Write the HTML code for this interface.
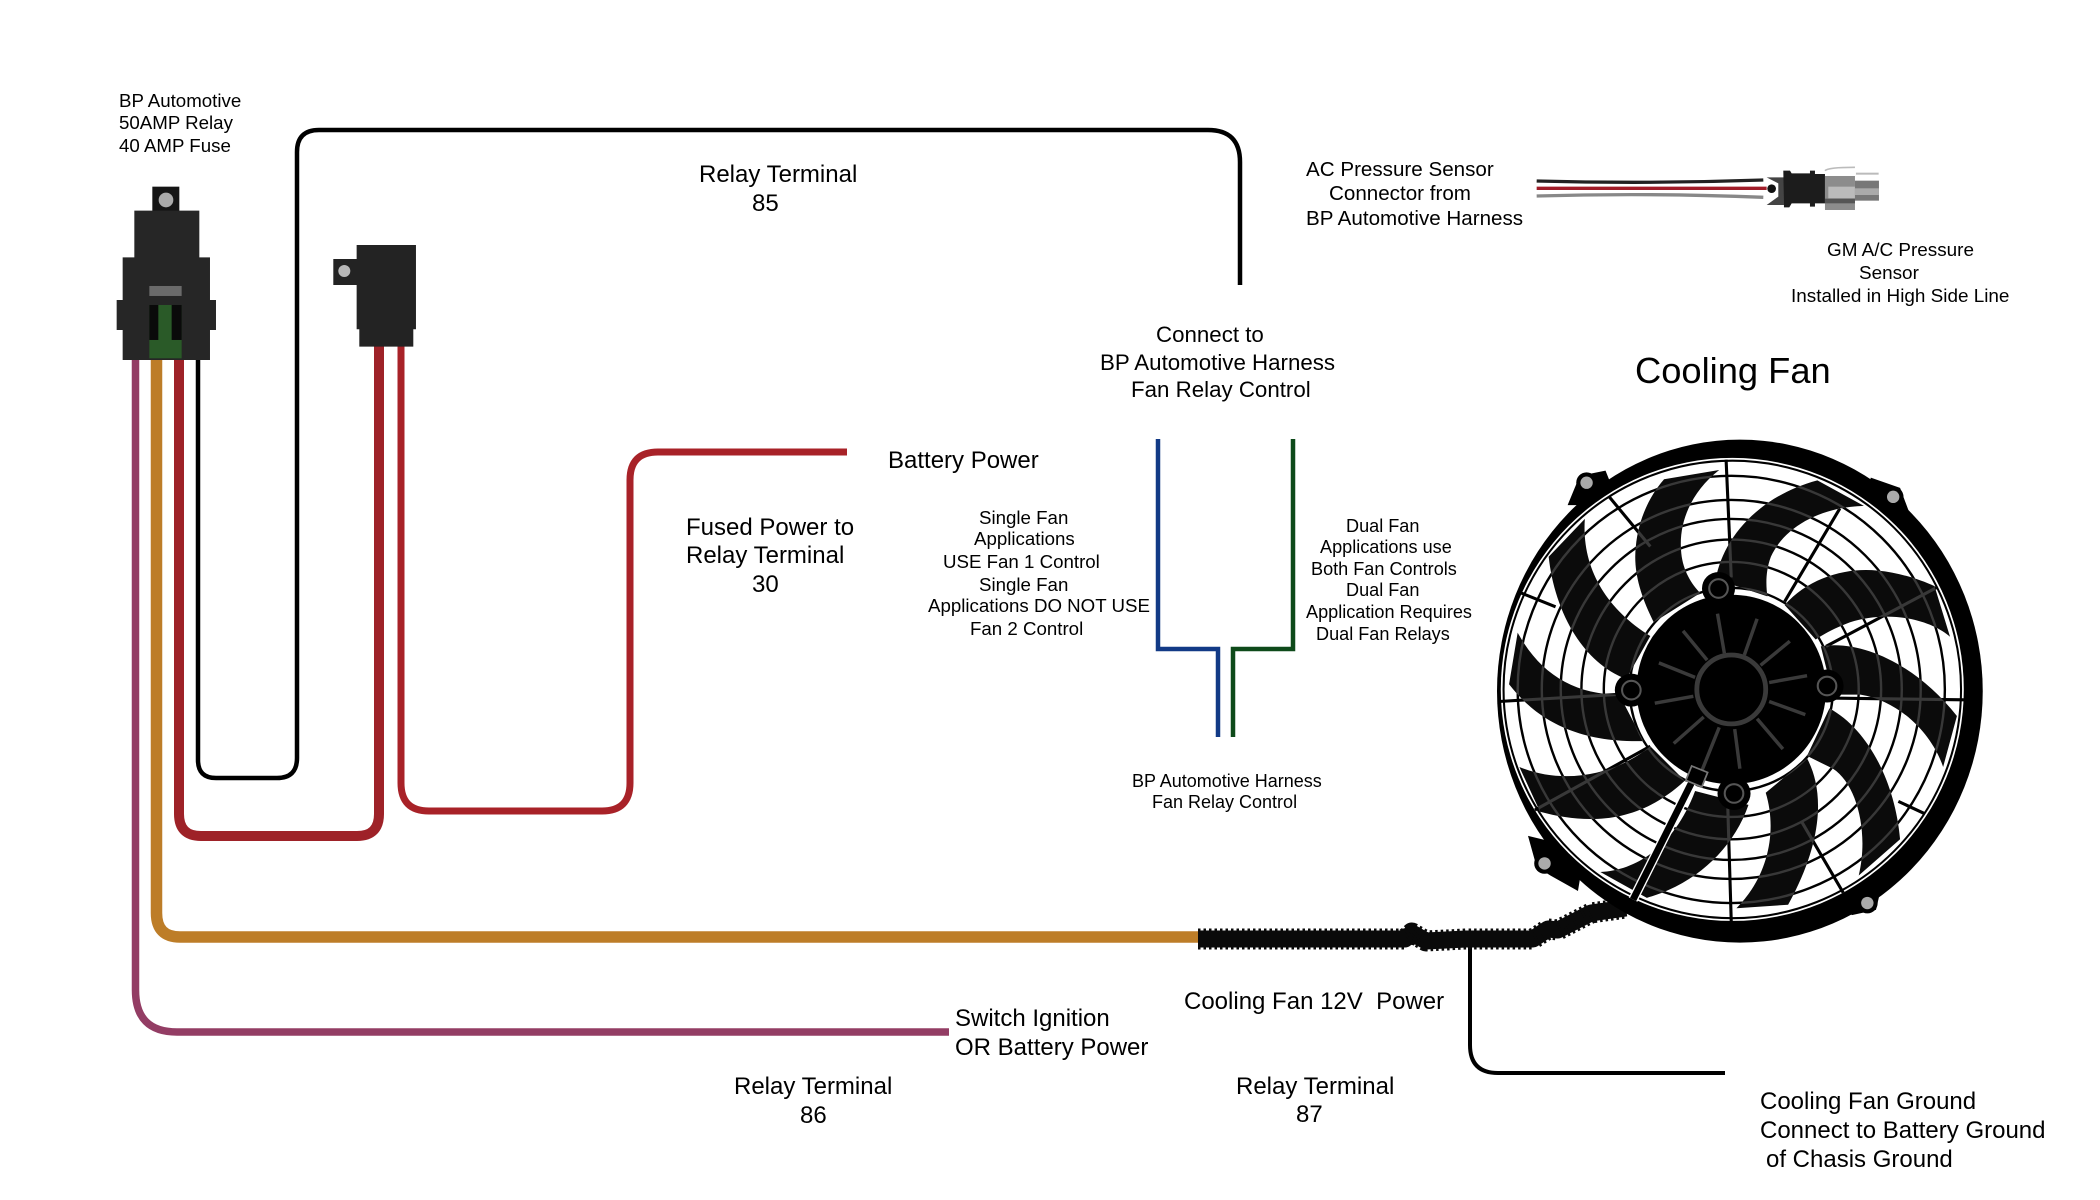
<!DOCTYPE html>
<html><head><meta charset="utf-8"><style>
html,body{margin:0;padding:0;background:#fff}
svg{display:block}
text{font-family:"Liberation Sans",Arial,sans-serif;fill:#000;white-space:pre}
.m{font-size:24px}.s{font-size:18.7px}.d{font-size:18.1px}.g{font-size:18.9px}.c{font-size:20.6px}.h{font-size:22.3px}.l{font-size:18px}
</style></head><body>
<svg xmlns="http://www.w3.org/2000/svg" width="2100" height="1200" viewBox="0 0 2100 1200">
<rect width="2100" height="1200" fill="#fff"/>
<g fill="none" stroke-linecap="butt">
<path d="M198 360V760Q198 778 216 778H277Q297 778 297 758V152Q297 130 319 130H1208Q1240 130 1240 162V285" stroke="#000" stroke-width="4.5"/>
<path d="M401 340V783Q401 811 429 811H602Q630 811 630 783V480Q630 452 658 452H847" stroke="#a82228" stroke-width="7"/>
<path d="M379 340V814Q379 836 357 836H201Q179 836 179 814V360" stroke="#9e2228" stroke-width="10"/>
<path d="M156.500 360V913Q156.500 937 180 937H1200" stroke="#bd7d28" stroke-width="11.500"/>
<path d="M135.500 360V990Q135.500 1032 177 1032H949" stroke="#933d64" stroke-width="7.500"/>
<path d="M1158 439V649H1218V737" stroke="#123a86" stroke-width="4.500"/>
<path d="M1293 439V649H1233V737" stroke="#0e4a1a" stroke-width="4.500"/>
<path d="M1470 945V1045Q1470 1073 1498 1073H1725" stroke="#000" stroke-width="4"/>
</g>
<!-- relay 1 -->
<g transform="translate(90 70) scale(.3333)">
<rect x="187" y="350" width="81" height="75" fill="#151515"/>
<circle cx="228" cy="390" r="22" fill="#aaa"/>
<path d="M133 422H328V562H360V690H378V780H360V870H98V780H80V690H98V562H133Z" fill="#262626"/>
<rect x="178" y="648" width="97" height="30" fill="#6a6a6a"/>
<rect x="178" y="705" width="97" height="160" fill="#2a5a28"/>
<rect x="178" y="705" width="27" height="105" fill="#0a0a0a"/>
<rect x="245" y="705" width="30" height="105" fill="#0a0a0a"/>
<path d="M730 567H800V525H978V778H970V830H808V778H800V645H730Z" fill="#232323"/>
<circle cx="763" cy="603" r="18" fill="#b8b8b8"/>
</g>
<!-- sensor -->
<g transform="translate(1500 140) scale(.3333)">
<path d="M110 123Q450 132 790 120" stroke="#222" stroke-width="10" fill="none"/>
<path d="M110 145H800" stroke="#a01c28" stroke-width="10" fill="none"/>
<path d="M110 168Q450 158 790 172" stroke="#888" stroke-width="10" fill="none"/>
<path d="M800 112H852V195H800L835 170V130Z" fill="#444"/>
<circle cx="815" cy="146" r="13" fill="#111"/>
<path d="M850 92H870L875 100H930V92H945V102H975V190H945V200H930V190H875L868 202H852Z" fill="#1c1c1c"/>
<rect x="975" y="108" width="90" height="102" fill="#8c8c8c"/>
<rect x="985" y="140" width="80" height="35" fill="#bbb"/>
<rect x="975" y="176" width="90" height="14" fill="#555"/>
<rect x="1065" y="122" width="72" height="60" fill="#777"/>
<rect x="1065" y="145" width="72" height="20" fill="#aaa"/>
<rect x="1068" y="98" width="68" height="6" fill="#bbb"/>
<path d="M975 92Q985 82 1065 82" stroke="#bbb" stroke-width="5" fill="none"/>
</g>
<!-- cable -->
<g fill="none" stroke-linejoin="round">
<path d="M1198 939H1405L1412 933L1426 941L1466 939H1533L1548 929L1558 930L1591 913L1626 908" stroke="#0a0a0a" stroke-width="17"/>
<path d="M1198 939H1405L1412 933L1426 941L1466 939H1533L1548 929L1558 930L1591 913L1626 908" stroke="#0a0a0a" stroke-width="21" stroke-dasharray="2.500 3"/>
</g>
<!-- fan -->
<g transform="translate(1481.500 419) scale(.3445)">
<defs>
<path id="bl" d="M530 175L690 148C610 210 570 300 580 390C585 440 610 480 635 505L500 590C460 510 440 440 448 370C455 290 490 220 530 175Z
M975 178L1110 252C990 255 880 310 840 400C825 440 825 480 830 515L680 465C700 350 800 225 975 178Z
M1315 485L1360 632C1300 580 1180 555 1070 590C1030 605 1000 620 970 640L880 540C950 460 1060 430 1150 440C1210 445 1270 465 1315 485Z
M985 660C1100 640 1260 710 1380 862L1340 1010C1310 920 1220 820 1100 800L1020 800Z
M1010 840C1120 900 1200 1050 1215 1220L1095 1325C1125 1200 1090 1060 1020 1015L945 978Z
M945 985C990 1070 1000 1210 890 1410L740 1420C830 1330 860 1200 825 1085Z
M480 1390L345 1315C450 1310 560 1240 620 1080L775 1120C730 1250 620 1350 480 1390Z
M110 1010C230 1060 380 1040 490 950L590 1050C450 1180 300 1175 170 1140Z
M105 620C170 740 270 800 400 800L470 935C260 940 150 860 80 770Z
M300 290C290 430 360 550 490 630L420 755C280 700 210 540 195 400Z"/>
<clipPath id="bc"><use href="#bl"/></clipPath>
<g id="gr" fill="none" stroke-width="7">
<circle cx="725" cy="785" r="620"/><circle cx="725" cy="785" r="550"/><circle cx="725" cy="785" r="495"/><circle cx="725" cy="785" r="435"/><circle cx="725" cy="785" r="370"/><circle cx="725" cy="785" r="295"/>
<path stroke-width="9" d="M710 118L725 460M370 225L490 370M115 505L215 545M50 820L390 800M1040 260L880 530M1320 490L1000 660M1400 815L1010 810M1285 1145L1210 1110M1050 1375L930 1170M725 1460L715 1130M155 1135L490 950"/>
</g>
</defs>
<path d="M250 250L285 165L360 150L400 250ZM1130 170L1215 200L1245 280L1100 300ZM1165 1340L1145 1425L1075 1440L1000 1350ZM135 1210L160 1300L200 1325L280 1370L300 1250Z" fill="#000"/>
<circle cx="305" cy="185" r="30" fill="#000"/><circle cx="1195" cy="226" r="30" fill="#000"/><circle cx="1120" cy="1405" r="30" fill="#000"/><circle cx="183" cy="1290" r="30" fill="#000"/>
<ellipse cx="750" cy="790" rx="705" ry="730" fill="#000"/>
<circle cx="728" cy="785" r="672" fill="#fff"/>
<circle cx="728" cy="785" r="664" fill="none" stroke="#000" stroke-width="6"/>
<use href="#gr" stroke="#000"/>
<use href="#bl" fill="#0b0b0b"/>
<use href="#gr" stroke="#383838" clip-path="url(#bc)"/>
<circle cx="725" cy="785" r="275" fill="#000"/>
<circle cx="688" cy="492" r="48" fill="#000"/><circle cx="1003" cy="775" r="48" fill="#000"/><circle cx="733" cy="1087" r="48" fill="#000"/><circle cx="435" cy="787" r="48" fill="#000"/>
<g fill="none" stroke="#555" stroke-width="6">
<circle cx="688" cy="492" r="27"/><circle cx="1003" cy="775" r="27"/><circle cx="733" cy="1087" r="27"/><circle cx="435" cy="787" r="27"/>
</g>
<path d="M685 565L705 680M800 580L763 685M895 645L810 715M945 745L835 765M940 858L835 820M875 958L800 870M750 1015L735 900M640 1020L690 895M558 942L645 865M503 825L615 805M515 708L620 750M585 615L655 700" stroke="#3a3a3a" stroke-width="10" fill="none"/>
<circle cx="725" cy="785" r="100" fill="#000" stroke="#3a3a3a" stroke-width="14"/>
<path d="M615 1045L440 1395" stroke="#fff" stroke-width="28" fill="none"/>
<path d="M615 1045L440 1395" stroke="#000" stroke-width="20" fill="none"/>
<rect x="600" y="1015" width="50" height="45" fill="#000" stroke="#777" stroke-width="5" transform="rotate(22 625 1037)"/>
<circle cx="305" cy="185" r="18" fill="#aaa"/><circle cx="1195" cy="226" r="18" fill="#aaa"/><circle cx="1120" cy="1405" r="18" fill="#aaa"/><circle cx="183" cy="1290" r="18" fill="#aaa"/>
</g>
<!-- labels -->
<text class="s" x="119" y="107">BP Automotive</text>
<text class="s" x="119" y="129">50AMP Relay</text>
<text class="s" x="119" y="152">40 AMP Fuse</text>
<text class="m" x="699" y="182">Relay Terminal</text>
<text class="m" x="752" y="211">85</text>
<text class="h" x="1156" y="342">Connect to</text>
<text class="h" x="1100" y="370">BP Automotive Harness</text>
<text class="h" x="1131" y="397">Fan Relay Control</text>
<text class="c" x="1306" y="176">AC Pressure Sensor</text>
<text class="c" x="1329" y="200">Connector from</text>
<text class="c" x="1306" y="225">BP Automotive Harness</text>
<text class="g" x="1827" y="256">GM A/C Pressure</text>
<text class="g" x="1859" y="279">Sensor</text>
<text class="g" x="1791" y="302">Installed in High Side Line</text>
<text x="1635" y="383" style="font-size:36.3px">Cooling Fan</text>
<text class="m" x="888" y="468">Battery Power</text>
<text class="m" x="686" y="535">Fused Power to</text>
<text class="m" x="686" y="563">Relay Terminal</text>
<text class="m" x="752" y="592">30</text>
<text class="s" x="979" y="524">Single Fan</text>
<text class="s" x="974" y="545">Applications</text>
<text class="s" x="943" y="568">USE Fan 1 Control</text>
<text class="s" x="979" y="591">Single Fan</text>
<text class="s" x="928" y="612">Applications DO NOT USE</text>
<text class="s" x="970" y="635">Fan 2 Control</text>
<text class="d" x="1346" y="532">Dual Fan</text>
<text class="d" x="1320" y="553">Applications use</text>
<text class="d" x="1311" y="575">Both Fan Controls</text>
<text class="d" x="1346" y="596">Dual Fan</text>
<text class="d" x="1306" y="618">Application Requires</text>
<text class="d" x="1316" y="640">Dual Fan Relays</text>
<text class="l" x="1132" y="787">BP Automotive Harness</text>
<text class="l" x="1152" y="808">Fan Relay Control</text>
<text class="m" x="1184" y="1009">Cooling Fan 12V  Power</text>
<text class="m" x="1236" y="1094">Relay Terminal</text>
<text class="m" x="1296" y="1122">87</text>
<text class="m" x="955" y="1026">Switch Ignition</text>
<text class="m" x="955" y="1055">OR Battery Power</text>
<text class="m" x="734" y="1094">Relay Terminal</text>
<text class="m" x="800" y="1123">86</text>
<text class="m" x="1760" y="1109">Cooling Fan Ground</text>
<text class="m" x="1760" y="1138">Connect to Battery Ground</text>
<text class="m" x="1766" y="1167">of Chasis Ground</text>
</svg>
</body></html>
